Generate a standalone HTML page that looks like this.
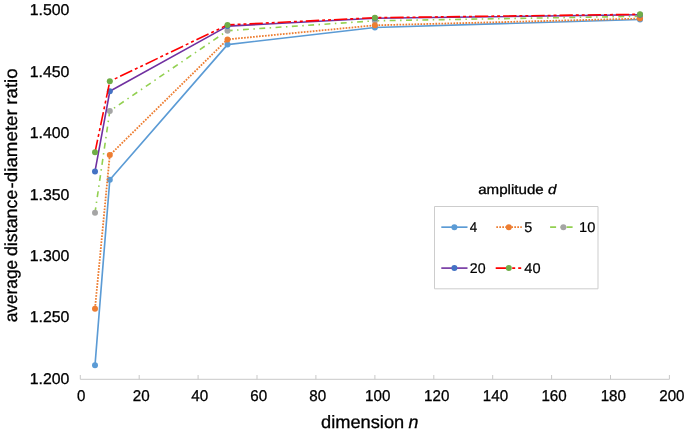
<!DOCTYPE html>
<html><head><meta charset="utf-8"><title>chart</title>
<style>
html,body{margin:0;padding:0;background:#fff;}
svg{display:block;}
text{font-family:"Liberation Sans",sans-serif;fill:#000;text-rendering:geometricPrecision;stroke:#000;stroke-width:0.3px;}
.tk{font-size:15.6px;}
.lg{font-size:14.1px;stroke-width:0.2px;}
.ax{stroke:#c9c9c9;stroke-width:1;fill:none;}
</style></head><body>
<svg width="685" height="434" viewBox="0 0 685 434">
<rect width="685" height="434" fill="#fff"/>

<path class="ax" d="M80.3,379.3H669.4"/>
<path class="ax" d="M80.3,375V379.3"/>
<path class="ax" d="M139.2,375V379.3"/>
<path class="ax" d="M198.1,375V379.3"/>
<path class="ax" d="M257.0,375V379.3"/>
<path class="ax" d="M315.9,375V379.3"/>
<path class="ax" d="M374.9,375V379.3"/>
<path class="ax" d="M433.8,375V379.3"/>
<path class="ax" d="M492.7,375V379.3"/>
<path class="ax" d="M551.6,375V379.3"/>
<path class="ax" d="M610.5,375V379.3"/>
<path class="ax" d="M669.4,375V379.3"/>
<text class="tk" x="81.3" y="401.45" text-anchor="middle" textLength="8.4" lengthAdjust="spacingAndGlyphs">0</text>
<text class="tk" x="141.3" y="401.45" text-anchor="middle" textLength="16.9" lengthAdjust="spacingAndGlyphs">20</text>
<text class="tk" x="199.7" y="401.45" text-anchor="middle" textLength="16.9" lengthAdjust="spacingAndGlyphs">40</text>
<text class="tk" x="258.8" y="401.45" text-anchor="middle" textLength="16.9" lengthAdjust="spacingAndGlyphs">60</text>
<text class="tk" x="317.7" y="401.45" text-anchor="middle" textLength="16.9" lengthAdjust="spacingAndGlyphs">80</text>
<text class="tk" x="377.7" y="401.45" text-anchor="middle" textLength="25.3" lengthAdjust="spacingAndGlyphs">100</text>
<text class="tk" x="436.7" y="401.45" text-anchor="middle" textLength="25.3" lengthAdjust="spacingAndGlyphs">120</text>
<text class="tk" x="495.5" y="401.45" text-anchor="middle" textLength="25.3" lengthAdjust="spacingAndGlyphs">140</text>
<text class="tk" x="554.1" y="401.45" text-anchor="middle" textLength="25.3" lengthAdjust="spacingAndGlyphs">160</text>
<text class="tk" x="613.3" y="401.45" text-anchor="middle" textLength="25.3" lengthAdjust="spacingAndGlyphs">180</text>
<text class="tk" x="671.9" y="401.45" text-anchor="middle" textLength="25.3" lengthAdjust="spacingAndGlyphs">200</text>
<text class="tk" x="69.4" y="383.8" text-anchor="end" textLength="39.7" lengthAdjust="spacingAndGlyphs">1.200</text>
<text class="tk" x="69.4" y="322.4" text-anchor="end" textLength="39.7" lengthAdjust="spacingAndGlyphs">1.250</text>
<text class="tk" x="69.4" y="261.0" text-anchor="end" textLength="39.7" lengthAdjust="spacingAndGlyphs">1.300</text>
<text class="tk" x="69.4" y="199.5" text-anchor="end" textLength="39.7" lengthAdjust="spacingAndGlyphs">1.350</text>
<text class="tk" x="69.4" y="138.1" text-anchor="end" textLength="39.7" lengthAdjust="spacingAndGlyphs">1.400</text>
<text class="tk" x="69.4" y="76.7" text-anchor="end" textLength="39.7" lengthAdjust="spacingAndGlyphs">1.450</text>
<text class="tk" x="69.4" y="15.3" text-anchor="end" textLength="39.7" lengthAdjust="spacingAndGlyphs">1.500</text>
<text transform="translate(16.6,0) rotate(-90)" font-size="17.5px"><tspan x="-322.3" textLength="62.4" lengthAdjust="spacingAndGlyphs">average</tspan> <tspan x="-256.1" textLength="66.4" lengthAdjust="spacingAndGlyphs">distance</tspan><tspan x="-188.6" textLength="6.2" lengthAdjust="spacingAndGlyphs">-</tspan><tspan x="-182.2" textLength="73.0" lengthAdjust="spacingAndGlyphs">diameter</tspan> <tspan x="-104.7" textLength="36.3" lengthAdjust="spacingAndGlyphs">ratio</tspan></text>
<text y="427.8" font-size="17.8px"><tspan x="321" textLength="83.2" lengthAdjust="spacingAndGlyphs">dimension</tspan> <tspan x="408.6" font-style="italic">n</tspan></text>
<text x="478.2" y="193.8" font-size="13.6px" stroke-width="0.2" textLength="78.1" lengthAdjust="spacingAndGlyphs">amplitude <tspan font-style="italic">d</tspan></text>
<polyline points="95.0,365.2 109.8,179.8 227.5,44.6 374.9,27.5 640.0,19.5" fill="none" stroke="#5b9bd5" stroke-width="1.65" stroke-linejoin="round"/>
<circle cx="95.0" cy="365.2" r="3" fill="#5b9bd5"/><circle cx="109.8" cy="179.8" r="3" fill="#5b9bd5"/><circle cx="227.5" cy="44.6" r="3" fill="#5b9bd5"/><circle cx="374.9" cy="27.5" r="3" fill="#5b9bd5"/><circle cx="640.0" cy="19.5" r="3" fill="#5b9bd5"/>
<polyline points="95.0,212.8 109.8,111.0 227.5,30.7 374.9,20.8 640.0,16.3" fill="none" stroke="#92d050" stroke-width="1.6" stroke-dasharray="5.94 4.46 1.485 4.45" stroke-dashoffset="0.5"/>
<circle cx="95.0" cy="212.8" r="3" fill="#a5a5a5"/><circle cx="109.8" cy="111.0" r="3" fill="#a5a5a5"/><circle cx="227.5" cy="30.7" r="3" fill="#a5a5a5"/><circle cx="374.9" cy="20.8" r="3" fill="#a5a5a5"/><circle cx="640.0" cy="16.3" r="3" fill="#a5a5a5"/>
<polyline points="95.0,308.7 109.8,155.1 227.5,39.4 374.9,25.3 640.0,18.6" fill="none" stroke="#ed7d31" stroke-width="1.8" stroke-dasharray="1.7 1.3"/>
<circle cx="95.0" cy="308.7" r="3" fill="#ed7d31"/><circle cx="109.8" cy="155.1" r="3" fill="#ed7d31"/><circle cx="227.5" cy="39.4" r="3" fill="#ed7d31"/><circle cx="374.9" cy="25.3" r="3" fill="#ed7d31"/><circle cx="640.0" cy="18.6" r="3" fill="#ed7d31"/>
<polyline points="95.0,171.4 109.8,91.3 227.5,26.1 374.9,18.3 640.0,14.8" fill="none" stroke="#7030a0" stroke-width="1.6" stroke-linejoin="round"/>
<circle cx="95.0" cy="171.4" r="3" fill="#4472c4"/><circle cx="109.8" cy="91.3" r="3" fill="#4472c4"/><circle cx="227.5" cy="26.1" r="3" fill="#4472c4"/><circle cx="374.9" cy="18.3" r="3" fill="#4472c4"/><circle cx="640.0" cy="14.8" r="3" fill="#4472c4"/>
<polyline points="95.0,152.3 109.8,81.3 227.5,24.9 374.9,17.7 640.0,14.3" fill="none" stroke="#ff0000" stroke-width="1.6" stroke-dasharray="13.4 2.96 2.96 2.96 2.96 2.96" stroke-dashoffset="0.6"/>
<circle cx="95.0" cy="152.3" r="3" fill="#70ad47"/><circle cx="109.8" cy="81.3" r="3" fill="#70ad47"/><circle cx="227.5" cy="24.9" r="3" fill="#70ad47"/><circle cx="374.9" cy="17.7" r="3" fill="#70ad47"/><circle cx="640.0" cy="14.3" r="3" fill="#70ad47"/>
<path d="M434.5,206.5H598V288.8H434.5Z" fill="#fff" stroke="#cdcdcd" stroke-width="1"/>
<path d="M441.3,227.15H467.5" stroke="#5b9bd5" stroke-width="1.65" fill="none"/><circle cx="454.4" cy="227.15" r="3" fill="#5b9bd5"/><text class="lg" x="469.8" y="231.70" textLength="7.4" lengthAdjust="spacingAndGlyphs">4</text>
<path d="M496.3,227.15H521.8" stroke="#ed7d31" stroke-width="1.8" fill="none" stroke-dasharray="1.7 1.3"/><circle cx="508.8" cy="227.15" r="3" fill="#ed7d31"/><text class="lg" x="524.3" y="231.70" textLength="8.05" lengthAdjust="spacingAndGlyphs">5</text>
<path d="M550.1,227.15H572.6" stroke="#92d050" stroke-width="1.6" fill="none" stroke-dasharray="6 4.5 1.5 4.5"/><circle cx="563.4" cy="227.15" r="3" fill="#a5a5a5"/><text class="lg" x="579.0" y="231.70" textLength="16.3" lengthAdjust="spacingAndGlyphs">10</text>
<path d="M441.3,268.1H467.5" stroke="#7030a0" stroke-width="1.6" fill="none"/><circle cx="454.4" cy="268.1" r="3" fill="#4472c4"/><text class="lg" x="469.8" y="272.65" textLength="15.8" lengthAdjust="spacingAndGlyphs">20</text>
<path d="M495.7,268.1H521.2" stroke="#ff0000" stroke-width="1.6" fill="none" stroke-dasharray="13.5 3 3 3 3 3"/><circle cx="508.8" cy="268.1" r="3" fill="#70ad47"/><text class="lg" x="524.3" y="272.65" textLength="16.25" lengthAdjust="spacingAndGlyphs">40</text>
</svg></body></html>
